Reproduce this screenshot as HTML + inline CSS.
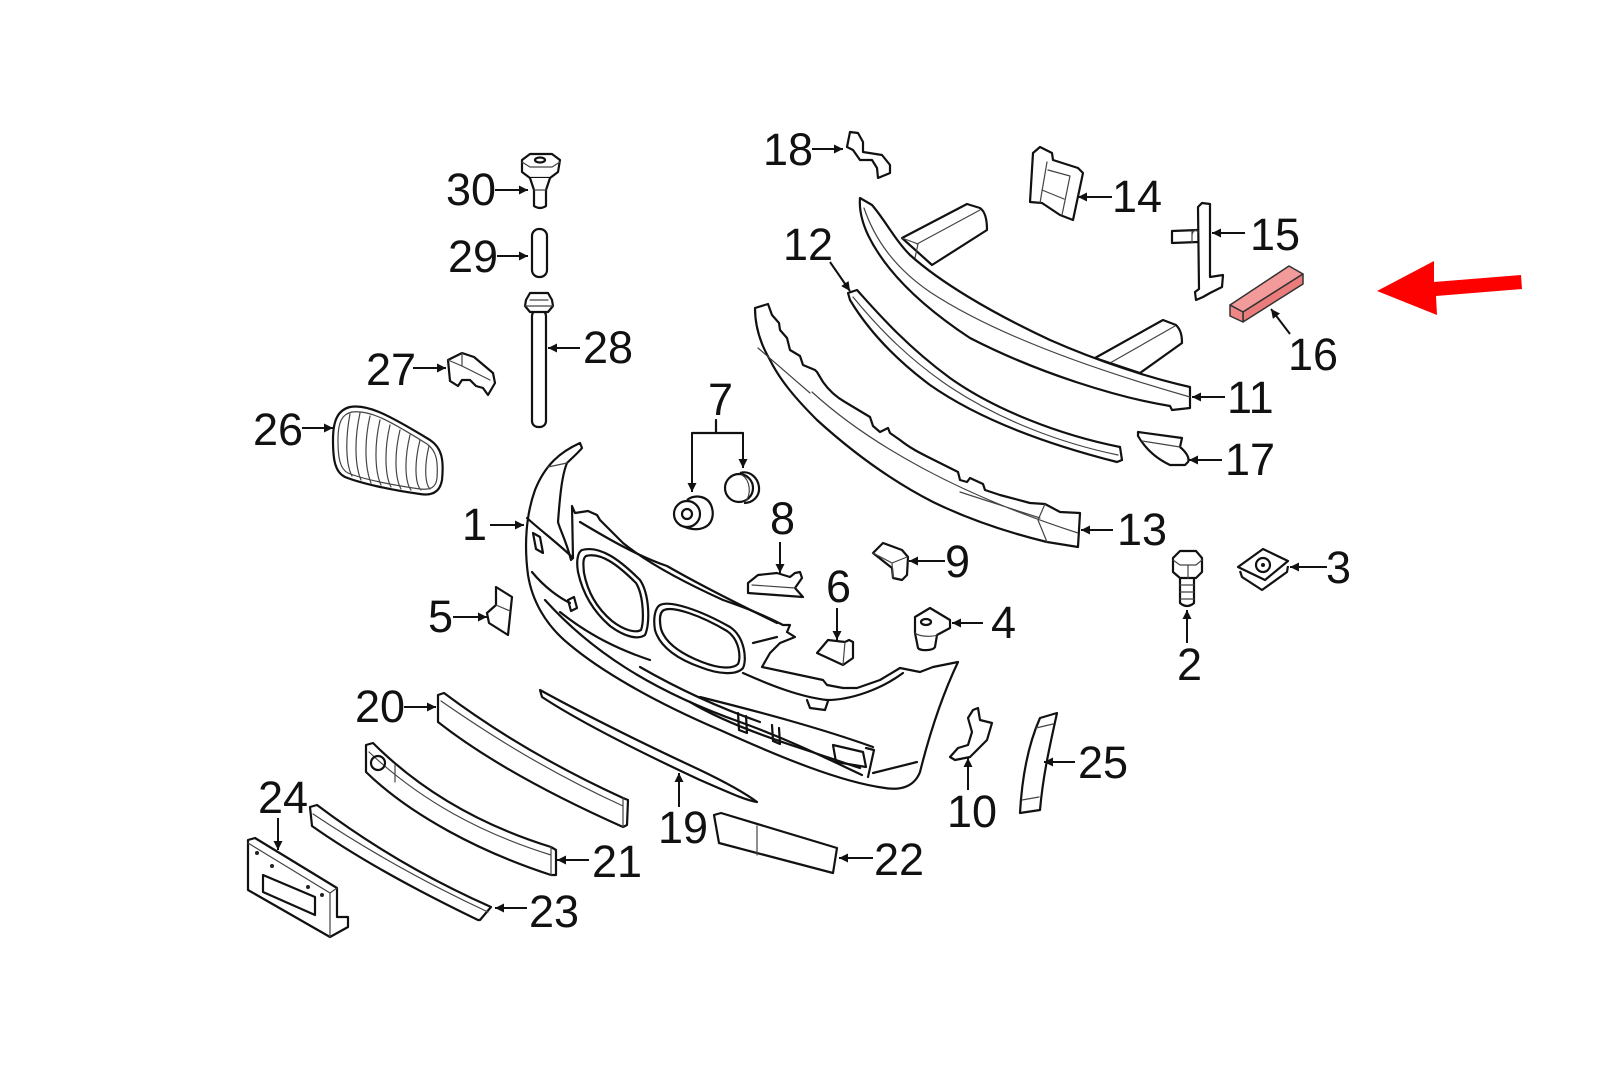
<!DOCTYPE html>
<html><head><meta charset="utf-8"><style>
html,body{margin:0;padding:0;background:#fff;}
svg{display:block;}
text{font-family:"Liberation Sans",sans-serif;font-size:45px;fill:#111;}
.o{fill:none;stroke:#111;stroke-width:2.2;stroke-linejoin:round;stroke-linecap:round;}
.f{fill:#fff;stroke:#111;stroke-width:2.2;stroke-linejoin:round;}
.i{fill:none;stroke:#444;stroke-width:1.2;stroke-linecap:round;}
.a{fill:none;stroke:#111;stroke-width:2;marker-end:url(#ah);}
</style></head><body>
<svg width="1600" height="1067" viewBox="0 0 1600 1067" xmlns="http://www.w3.org/2000/svg">
<defs><marker id="ah" viewBox="0 0 10 10" refX="10" refY="5" markerWidth="10" markerHeight="9" markerUnits="userSpaceOnUse" orient="auto"><path d="M0,0 L10,5 L0,10 z" fill="#111"/></marker></defs>
<rect width="1600" height="1067" fill="#fff"/>

<!-- 30 -->
<path class="f" d="M522,160 L530,154 L552,154 L560,160 L558,172 L550,178 L530,178 L522,172 Z"/>
<path class="i" d="M522,162 L530,167 L552,167 L560,162"/>
<ellipse cx="540" cy="160" rx="5" ry="2.5" class="o" stroke-width="1.4"/>
<path class="f" d="M530,178 L534,190 L534,206 Q540,210 546,206 L546,190 L550,178"/>
<path class="i" d="M534,190 L546,190"/>
<!-- 29 -->
<rect x="532" y="229" width="15" height="48" rx="7" class="f"/>
<!-- 28 -->
<rect x="532" y="310" width="14" height="117" rx="6" class="f"/>
<path class="f" d="M526,300 L530,293 L548,293 L552,300 L553,306 L548,312 L530,312 L525,306 Z"/>
<path class="i" d="M525,306 L553,306 M530,300 L548,300"/>
<!-- 27 -->
<path class="f" d="M448,360 L462,353 L474,357 L493,373 L495,383 L488,395 L483,388 L476,386 L470,380 L462,380 L458,386 L450,381 Z"/>
<path class="i" d="M462,353 L462,366 L490,380 M448,360 L462,366"/>
<!-- 26 grille -->
<path class="f" d="M350,407 C366,404 384,412 430,440 C442,448 444,460 442,480 C440,492 432,496 420,494 C390,490 360,483 345,477 C335,472 333,460 333,440 C333,420 338,410 350,407 Z"/>
<path class="i" d="M352,412 C368,410 384,417 427,444 C437,451 438,462 437,478 C436,488 430,490 420,489 C392,485 362,479 348,473 C340,469 338,458 338,440 C338,422 342,414 352,412 Z"/>
<path class="i" d="M350,414 C345,440 346,465 352,476 M360,413 C354,440 355,466 361,480 M370,416 C364,442 365,468 371,483 M380,420 C374,446 375,472 381,485 M390,425 C384,450 385,476 391,487 M400,430 C394,455 395,478 401,489 M410,435 C404,460 405,482 411,490 M420,440 C414,464 415,484 421,490 M429,446 C424,466 425,484 430,489"/>

<!-- 18 -->
<path class="f" d="M850,132 L858,133 L863,142 L863,152 L882,155 L890,165 L890,173 L878,178 L877,168 L872,160 L860,160 L853,150 L847,147 L848,142 Z"/>
<!-- 14 -->
<path class="f" d="M1033,153 L1040,147 L1052,153 L1053,160 L1078,168 L1083,173 L1073,220 L1060,215 L1042,203 L1030,202 Z"/>
<path class="i" d="M1047,162 L1040,203 M1048,170 L1070,176 M1042,190 L1064,199 M1070,176 L1062,215"/>
<!-- 15 -->
<path class="f" d="M1198,230 L1172,231 L1172,243 L1198,242"/>
<path class="f" d="M1198,207 L1202,203 L1210,204 L1210,277 L1223,275 L1222,287 L1210,293 L1203,297 L1196,300 L1195,292 L1199,289 L1198,207 Z"/>
<path class="i" d="M1192,231 L1192,243 M1198,232 C1195,228 1192,232 1192,236"/>
<!-- 16 red part -->
<polygon points="1230,305 1289,266 1303,274 1243,312" fill="#f39a9a" stroke="#333" stroke-width="1.5" stroke-linejoin="round"/>
<polygon points="1243,312 1303,274 1303,284 1243,322" fill="#ea7c7c" stroke="#333" stroke-width="1.5" stroke-linejoin="round"/>
<polygon points="1230,305 1243,312 1243,322 1230,316" fill="#ee8686" stroke="#333" stroke-width="1.5" stroke-linejoin="round"/>
<!-- red arrow -->
<polygon points="1377,291 1434,261 1434,282 1521,275 1522,289 1436,296 1437,315" fill="#fd0000"/>

<!-- 11 beam -->
<path class="f" d="M902,238 L967,204 L980,208 C986,212 987,222 987,230 L932,265 Z"/>
<path class="i" d="M917,244 L980,210 M902,238 L918,244 L915,258"/>
<path class="f" d="M1095,358 L1163,320 L1176,325 C1181,330 1182,336 1182,343 L1140,373 Z"/>
<path class="i" d="M1110,363 L1175,326 M1095,358 L1112,364 L1110,372"/>
<path class="f" d="M860,198 L872,205 C885,220 895,240 910,255 C940,282 990,312 1050,340 C1100,362 1150,378 1190,387 L1190,408 L1172,410 L1170,406 C1120,398 1040,374 970,338 C920,305 885,270 868,235 C862,222 859,210 860,198 Z"/>
<path class="i" d="M864,208 C875,240 895,268 930,292 C980,325 1060,360 1190,397"/>
<!-- 12 -->
<path class="f" d="M848,293 L857,290 C875,310 905,345 950,378 C995,410 1060,435 1120,447 L1122,460 L1117,462 C1050,445 980,420 930,385 C890,355 865,325 850,300 Z"/>
<path class="i" d="M853,297 C880,330 910,360 950,387 C1000,420 1060,443 1118,455"/>
<!-- 13 -->
<path class="f" d="M755,308 L768,304 L772,315 L779,323 L780,330 L787,338 L790,350 L800,356 L803,365 L815,370 L817,372 L823,382 C830,392 838,398 845,402 L870,417 L873,426 L880,432 L888,428 L890,433 L900,440 C910,448 920,453 930,458 L958,472 L960,480 L967,482 L970,478 L983,484 L985,490 L1000,495 L1030,503 L1045,504 L1060,512 L1080,513 L1078,547 L1047,542 C1010,533 970,520 933,502 C890,480 850,450 817,420 C795,398 780,380 770,360 C760,343 755,325 755,308 Z"/>
<path class="i" d="M758,348 L810,393 M812,392 C870,445 960,495 1078,533 M960,492 L1040,518 M1045,504 L1038,520 L1047,542"/>
<!-- 17 -->
<path class="f" d="M1138,432 L1182,438 L1180,447 C1186,452 1190,458 1188,462 L1185,465 L1170,465 C1155,458 1145,448 1138,436 Z"/>
<path class="i" d="M1142,441 L1180,447"/>

<!-- 7 -->
<path class="o" d="M716,433 L716,420 M692,433 L743,433" stroke-width="2"/>
<line x1="692" y1="433" x2="692" y2="492" class="a"/>
<line x1="743" y1="433" x2="743" y2="468" class="a"/>
<path class="f" d="M687,500 C695,494 707,496 711,505 C715,515 712,525 703,528 C695,531 683,528 678,522"/>
<circle cx="687" cy="514" r="13" class="f"/>
<circle cx="687" cy="514" r="5" class="o" stroke-width="1.5"/>
<path class="f" d="M740,473 C750,470 758,478 759,487 C760,496 753,503 744,503"/>
<circle cx="739" cy="488" r="14" class="f"/>
<path class="i" d="M742,475 C750,480 752,494 745,502"/>

<!-- 1 bumper -->
<path class="f" d="M580,443 C560,452 545,465 535,490 C526,515 524,545 528,575 C532,600 545,625 570,645 C600,670 650,700 720,730 C780,757 840,782 885,788 C903,791 915,785 920,772 C928,740 940,700 958,662 L933,667 L920,672 L900,668 L880,680 L857,688 L843,688 L827,685 L823,680 L762,667 L770,653 L780,643 L795,637 L787,632 L790,625 L783,625 C760,613 740,606 723,600 C690,585 650,565 623,543 L600,520 L597,515 L588,511 L575,513 L572,506 L573,558 L571,560 C566,540 560,530 558,522 C560,495 562,475 567,463 C572,458 578,453 582,448 Z"/>
<path class="o" d="M527,518 C540,530 560,545 573,558"/>
<path class="i" d="M548,467 L567,463"/>
<path class="o" d="M580,522 C610,540 640,557 667,566 C700,585 740,605 777,623" stroke-width="1.8"/>
<path class="o" d="M532,572 C545,588 560,598 570,603 M560,612 C590,636 620,650 650,660" stroke-width="1.8"/>
<path class="o" d="M545,600 C590,650 650,690 740,722 C790,740 830,760 862,775" stroke-width="1.8"/>
<path class="o" d="M640,667 C680,690 720,708 760,722" stroke-width="1.5"/>
<!-- kidneys -->
<path class="o" d="M582,550 C600,545 620,560 640,580 C650,595 650,625 645,635 C638,640 625,637 610,626 C595,613 583,595 578,572 C576,560 578,552 582,550 Z" stroke-width="2"/>
<path class="o" d="M586,556 C601,552 618,565 636,583 C644,596 644,622 641,630 C636,633 625,631 612,621 C599,610 588,594 584,573 C583,563 583,558 586,556 Z" stroke-width="1.6"/>
<path class="o" d="M660,605 C670,600 700,610 730,627 C745,637 747,660 743,668 C737,675 720,675 700,667 C680,660 660,648 655,630 C653,618 655,608 660,605 Z" stroke-width="2"/>
<path class="o" d="M664,610 C673,606 700,615 727,631 C740,640 741,658 738,664 C733,669 720,669 702,662 C684,655 666,645 661,629 C659,619 660,612 664,610 Z" stroke-width="1.6"/>
<path class="o" d="M533,533 L540,537 L543,553 L536,549 Z M568,600 L574,597 L577,608 L571,611 Z" stroke-width="1.6"/>
<path class="o" d="M753,643 L777,637" stroke-width="1.6"/>
<path class="o" d="M743,673 C770,685 800,697 827,700 C850,700 880,690 903,673" stroke-width="1.8"/>
<path class="o" d="M807,700 L810,708 L825,710 L828,701" stroke-width="1.6"/>
<path class="o" d="M700,697 C760,712 820,728 873,747 M690,702 C720,720 760,735 800,748 C830,758 850,765 860,768" stroke-width="1.6"/>
<path class="o" d="M738,713 L739,730 L747,733 L746,716 M772,725 L773,741 L780,744 L779,728" stroke-width="1.6"/>
<path class="o" d="M833,745 L863,752 L866,767 L836,762 Z M873,773 L917,762" stroke-width="1.6"/>
<path class="o" d="M866,748 L874,750 L868,777" stroke-width="1.6"/>

<!-- 5 -->
<path class="f" d="M487,613 L496,605 L496,587 L512,597 L508,635 L489,623 Z"/>
<path class="i" d="M496,605 L510,611"/>
<!-- 8 -->
<path class="f" d="M748,583 L758,575 L777,573 L790,577 L795,573 L800,572 L802,578 L795,588 L803,597 L748,593 Z"/>
<path class="i" d="M752,585 L795,588"/>
<!-- 6 -->
<path class="f" d="M817,653 L828,640 L845,642 L849,640 L853,642 L853,658 L843,665 Z"/>
<path class="i" d="M843,665 L845,642"/>
<!-- 9 -->
<path class="f" d="M873,553 L883,543 L902,550 L908,557 L907,575 L902,580 L893,578 L892,568 Z"/>
<path class="i" d="M873,553 L892,563 L907,557 M892,563 L893,578"/>
<!-- 4 -->
<path class="f" d="M915,617 L930,608 L950,620 L950,628 L937,635 L935,647 C933,651 920,651 918,648 L915,633 Z"/>
<ellipse cx="926" cy="622" rx="5" ry="3" class="o" stroke-width="1.5"/>
<path class="i" d="M915,633 C920,637 932,637 937,635"/>
<!-- 2 -->
<path class="f" d="M1180,578 L1180,603 Q1187,609 1194,603 L1194,578"/>
<path class="i" d="M1180,585 L1194,585 M1180,592 L1194,592 M1180,599 L1194,599"/>
<path class="f" d="M1173,558 L1180,551 L1196,551 L1202,558 L1202,572 L1196,578 L1180,578 L1173,572 Z"/>
<path class="i" d="M1173,560 L1180,565 L1196,565 L1202,560 M1188,565 L1188,578"/>
<!-- 3 -->
<path class="f" d="M1240,571 L1242,577 L1262,590 L1287,572 L1288,566"/>
<path class="f" d="M1238,567 L1263,549 L1288,561 L1265,580 Z"/>
<circle cx="1263" cy="565" r="7" class="o" stroke-width="1.4"/>
<circle cx="1263" cy="565" r="2" fill="#111"/>
<!-- 10 -->
<path class="f" d="M973,710 L978,708 L980,720 L992,723 L987,740 L977,750 L970,757 L955,760 L950,757 L958,748 L968,745 L972,732 L968,718 Z"/>
<!-- 25 -->
<path class="f" d="M1040,718 L1057,713 C1050,745 1043,775 1040,810 L1020,813 C1022,777 1028,745 1040,718 Z"/>
<path class="i" d="M1036,728 L1053,724 M1022,800 L1039,797"/>

<!-- 20 -->
<path class="f" d="M438,695 L444,693 C480,720 540,760 623,798 L628,800 L627,825 L623,827 C540,790 480,755 438,722 Z"/>
<path class="i" d="M441,701 C480,728 540,768 623,806 M623,798 L623,827"/>
<!-- 21 -->
<path class="f" d="M366,745 L373,743 C420,790 480,825 551,847 L556,850 L556,875 L551,875 C480,852 410,815 366,772 Z"/>
<path class="i" d="M369,752 C420,800 480,833 551,855 M551,847 L551,875 M395,765 L395,782"/>
<ellipse cx="378" cy="763" rx="7" ry="7" class="o" stroke-width="1.5"/>
<!-- 23 -->
<path class="f" d="M310,807 L317,805 C370,845 430,880 491,907 L480,920 L478,920 C420,892 360,860 312,826 Z"/>
<path class="i" d="M313,814 C370,852 430,885 488,912"/>
<!-- 24 -->
<path class="f" d="M248,840 L255,838 L337,888 L337,917 L348,917 L348,927 L330,937 L248,890 Z"/>
<path class="i" d="M248,843 L330,893 L330,937 M330,893 L337,888"/>
<path class="o" d="M263,875 L315,897 L315,915 L263,892 Z" stroke-width="1.6"/>
<circle cx="257" cy="853" r="2" fill="#222"/><circle cx="272" cy="866" r="2" fill="#222"/>
<circle cx="308" cy="887" r="2" fill="#222"/><circle cx="322" cy="895" r="2" fill="#222"/>
<!-- 19 -->
<path class="f" d="M540,690 C580,712 640,742 700,770 C725,782 745,793 757,802 C745,800 730,793 700,780 C640,752 580,722 542,697 Z"/>
<!-- 22 -->
<path class="f" d="M714,815 L721,813 L837,848 L833,873 L719,843 Z"/>
<path class="i" d="M757,826 L757,855"/>

<!-- arrows -->
<line x1="495" y1="190" x2="528" y2="190" class="a"/>
<line x1="497" y1="256" x2="528" y2="256" class="a"/>
<line x1="580" y1="348" x2="548" y2="348" class="a"/>
<line x1="413" y1="368" x2="446" y2="368" class="a"/>
<line x1="302" y1="428" x2="333" y2="428" class="a"/>
<line x1="812" y1="149" x2="843" y2="149" class="a"/>
<line x1="1112" y1="197" x2="1078" y2="197" class="a"/>
<line x1="830" y1="262" x2="850" y2="291" class="a"/>
<line x1="1245" y1="233" x2="1212" y2="233" class="a"/>
<line x1="1290" y1="334" x2="1271" y2="309" class="a"/>
<line x1="1225" y1="397" x2="1192" y2="397" class="a"/>
<line x1="1222" y1="460" x2="1189" y2="460" class="a"/>
<line x1="1113" y1="530" x2="1081" y2="530" class="a"/>
<line x1="490" y1="525" x2="524" y2="525" class="a"/>
<line x1="780" y1="542" x2="780" y2="573" class="a"/>
<line x1="945" y1="561" x2="909" y2="561" class="a"/>
<line x1="1327" y1="567" x2="1290" y2="567" class="a"/>
<line x1="837" y1="608" x2="837" y2="640" class="a"/>
<line x1="453" y1="617" x2="487" y2="617" class="a"/>
<line x1="983" y1="623" x2="952" y2="623" class="a"/>
<line x1="1187" y1="643" x2="1187" y2="610" class="a"/>
<line x1="404" y1="707" x2="436" y2="707" class="a"/>
<line x1="1075" y1="762" x2="1044" y2="762" class="a"/>
<line x1="968" y1="790" x2="968" y2="758" class="a"/>
<line x1="278" y1="818" x2="278" y2="850" class="a"/>
<line x1="679" y1="807" x2="679" y2="773" class="a"/>
<line x1="589" y1="860" x2="557" y2="860" class="a"/>
<line x1="873" y1="858" x2="839" y2="858" class="a"/>
<line x1="527" y1="908" x2="495" y2="908" class="a"/>

<!-- labels -->
<text x="446" y="205">30</text>
<text x="448" y="272">29</text>
<text x="583" y="363">28</text>
<text x="366" y="385">27</text>
<text x="253" y="445">26</text>
<text x="763" y="165">18</text>
<text x="1112" y="212">14</text>
<text x="783" y="260">12</text>
<text x="1250" y="250">15</text>
<text x="1288" y="370">16</text>
<text x="1227" y="413">11</text>
<text x="1225" y="475">17</text>
<text x="708" y="415">7</text>
<text x="462" y="540">1</text>
<text x="1117" y="545">13</text>
<text x="770" y="534">8</text>
<text x="945" y="577">9</text>
<text x="1326" y="583">3</text>
<text x="826" y="602">6</text>
<text x="428" y="632">5</text>
<text x="991" y="638">4</text>
<text x="1177" y="680">2</text>
<text x="355" y="722">20</text>
<text x="1078" y="778">25</text>
<text x="947" y="827">10</text>
<text x="258" y="813">24</text>
<text x="658" y="843">19</text>
<text x="592" y="877">21</text>
<text x="874" y="875">22</text>
<text x="529" y="927">23</text>
</svg>
</body></html>
